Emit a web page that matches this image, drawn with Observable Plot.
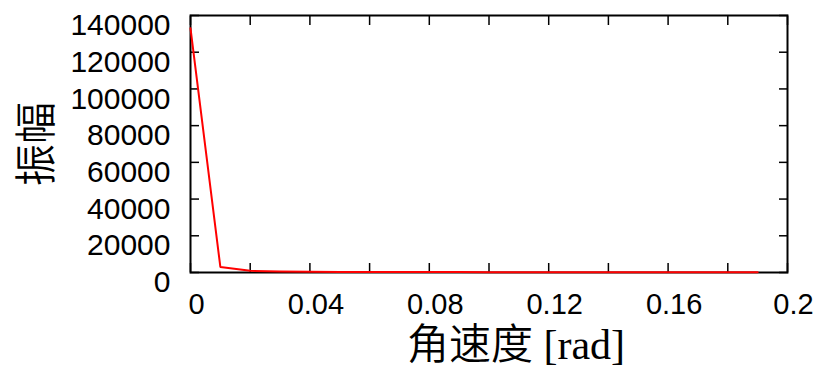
<!DOCTYPE html>
<html>
<head>
<meta charset="utf-8">
<script src="https://cdn.jsdelivr.net/npm/d3@7"></script>
<script src="https://cdn.jsdelivr.net/npm/@observablehq/plot@0.6"></script>
<style>
  html, body { margin: 0; padding: 0; background: #fff; }
</style>
</head>
<body>
<div id="chart"></div>
<script>
const omega = [0, 0.01, 0.02, 0.03, 0.04, 0.05, 0.06, 0.07, 0.08, 0.09, 0.10, 0.11, 0.12, 0.13, 0.14, 0.15, 0.16, 0.17, 0.18, 0.19];
const amplitude = [133000, 3000, 900, 500, 380, 320, 280, 250, 230, 210, 190, 170, 160, 150, 140, 130, 120, 110, 100, 90];
const xTickMarks = [0, 0.02, 0.04, 0.06, 0.08, 0.10, 0.12, 0.14, 0.16, 0.18, 0.2];
const xTickLabels = [0, 0.04, 0.08, 0.12, 0.16, 0.2];
const yTicks = [0, 20000, 40000, 60000, 80000, 100000, 120000, 140000];
const xLabel = "角速度 [rad]";
const yLabel = "振幅";

const data = omega.map((x, i) => ({x, y: amplitude[i]}));

const chart = Plot.plot({
  width: 817,
  height: 368,
  marginLeft: 190,
  marginRight: 30,
  marginTop: 15,
  marginBottom: 96,
  style: {fontFamily: "'Liberation Sans', Arial, sans-serif", background: "#fff", color: "#000"},
  x: {domain: [0, 0.2]},
  y: {domain: [0, 140000]},
  marks: [
    Plot.frame({stroke: "#000", strokeWidth: 2}),
    Plot.axisX({anchor: "bottom", ticks: xTickMarks, tickSize: -9, strokeWidth: 1.5, text: null, label: null}),
    Plot.axisX({anchor: "top", ticks: xTickMarks, tickSize: -9, strokeWidth: 1.5, text: null, label: null}),
    Plot.axisY({anchor: "left", ticks: yTicks, tickSize: -9, strokeWidth: 1.5, text: null, label: null}),
    Plot.axisY({anchor: "right", ticks: yTicks, tickSize: -9, strokeWidth: 1.5, text: null, label: null}),
    Plot.axisX({anchor: "bottom", ticks: xTickLabels, tickSize: 0, tickPadding: 21, dx: 6, fontSize: 29, tickFormat: d => String(d), label: null}),
    Plot.axisY({anchor: "left", ticks: yTicks, tickSize: 0, tickPadding: 20, dy: 10, fontSize: 30, tickFormat: d => String(d), label: null}),
    Plot.line(data, {x: "x", y: "y", stroke: "#ff0000", strokeWidth: 2}),
    Plot.text([yLabel], {frameAnchor: "left", text: d => d, rotate: -90, dx: -153, textAnchor: "middle", lineAnchor: "middle", fontSize: 42, fontWeight: 350, fontFamily: "'Noto Sans CJK SC', sans-serif", fill: "#000"}),
    Plot.text([xLabel], {frameAnchor: "bottom", text: d => d, dx: 27, dy: 73, textAnchor: "middle", lineAnchor: "middle", fontSize: 42, fontWeight: 350, fontFamily: "'Liberation Serif', 'Noto Sans CJK SC', serif", fill: "#000"})
  ]
});
document.getElementById("chart").appendChild(chart);
</script>
</body>
</html>
